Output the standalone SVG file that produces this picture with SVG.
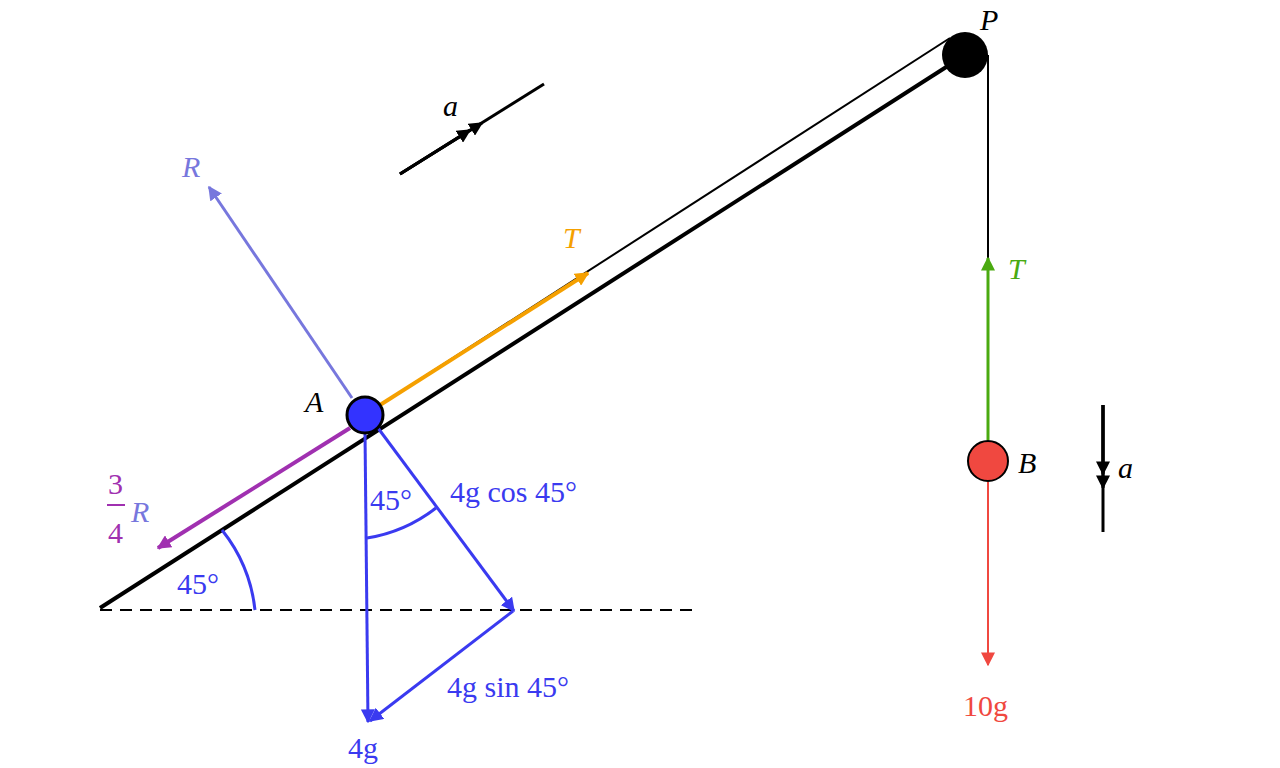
<svg xmlns="http://www.w3.org/2000/svg" width="1280" height="768" viewBox="0 0 1280 768">
<style>
text{font-family:"Liberation Serif",serif;font-size:30px}
.i{font-style:italic}
.bl{fill:#3a3af0}
</style>
<defs>
<marker id="k" viewBox="0 0 10 10" refX="9" refY="5" markerWidth="14" markerHeight="14" orient="auto" markerUnits="userSpaceOnUse"><path d="M0,0L10,5L0,10z" fill="context-stroke"/></marker>
</defs>
<rect width="1280" height="768" fill="#fff"/>
<g id="connectors" fill="none">
<line x1="100" y1="610" x2="700" y2="610" stroke="#000" stroke-width="2" stroke-dasharray="12,8"/>
<line x1="100" y1="608" x2="965" y2="55" stroke="#000" stroke-width="4"/>
<line x1="380" y1="405" x2="950" y2="38" stroke="#000" stroke-width="2"/>
<line x1="988" y1="55" x2="988" y2="260" stroke="#000" stroke-width="2"/>
<path d="M255,610 A155,155 0 0 0 222,530" stroke="#3a3af0" stroke-width="3"/>
<line x1="380" y1="405" x2="588" y2="273" stroke="#f5a000" stroke-width="4" marker-end="url(#k)"/>
<line x1="988" y1="440" x2="988" y2="258" stroke="#4aaa10" stroke-width="3" marker-end="url(#k)"/>
<line x1="988" y1="482" x2="988" y2="665" stroke="#f04840" stroke-width="2" marker-end="url(#k)"/>
<line x1="352" y1="398" x2="209" y2="187" stroke="#7777dd" stroke-width="3" marker-end="url(#k)"/>
<line x1="350" y1="428" x2="158" y2="548" stroke="#a030b0" stroke-width="4" marker-end="url(#k)"/>
<line x1="365" y1="432" x2="368" y2="722" stroke="#3a3af0" stroke-width="3" marker-end="url(#k)"/>
<line x1="378" y1="428" x2="514" y2="611" stroke="#3a3af0" stroke-width="3" marker-end="url(#k)"/>
<line x1="513" y1="611" x2="370" y2="721" stroke="#3a3af0" stroke-width="3" marker-end="url(#k)"/>
<path d="M367,538 Q405,532 436,508" stroke="#3a3af0" stroke-width="3"/>
<line x1="400" y1="174" x2="544" y2="84" stroke="#000" stroke-width="3"/>
<line x1="400" y1="174" x2="482" y2="123" stroke="#000" stroke-width="3" marker-end="url(#k)"/>
<line x1="400" y1="174" x2="470" y2="130" stroke="#000" stroke-width="3" marker-end="url(#k)"/>
<line x1="1103" y1="405" x2="1103" y2="532" stroke="#000" stroke-width="3"/>
<line x1="1103" y1="405" x2="1103" y2="474" stroke="#000" stroke-width="3" marker-end="url(#k)"/>
<line x1="1103" y1="405" x2="1103" y2="488" stroke="#000" stroke-width="3" marker-end="url(#k)"/>
</g>
<g id="P"><circle cx="965" cy="55" r="23" fill="#000"/><text x="980" y="30" class="i">P</text></g>
<g id="A"><circle cx="365" cy="415" r="18" fill="#3333ff" stroke="#000" stroke-width="3"/><text x="305" y="412" class="i">A</text></g>
<g id="B"><circle cx="988" cy="461" r="20" fill="#f04840" stroke="#000" stroke-width="2"/><text x="1018" y="473" class="i">B</text></g>
<g id="labels">
<text x="563" y="248" class="i" fill="#f5a000">T</text>
<text x="1008" y="279" class="i" fill="#4aaa10">T</text>
<text x="963" y="716" fill="#f04840">10g</text>
<text x="182" y="177" class="i" fill="#7777dd">R</text>
<text x="108" y="494" fill="#a030b0">3</text>
<line x1="107" y1="505" x2="125" y2="505" stroke="#a030b0" stroke-width="2"/>
<text x="108" y="543" fill="#a030b0">4</text>
<text x="131" y="522" class="i" fill="#7777dd">R</text>
<text x="443" y="116" class="i">a</text>
<text x="1118" y="478" class="i">a</text>
<text x="177" y="594" class="bl">45°</text>
<text x="370" y="510" class="bl">45°</text>
<text x="450" y="502" class="bl">4g cos 45°</text>
<text x="447" y="697" class="bl">4g sin 45°</text>
<text x="348" y="758" class="bl">4g</text>
</g>
</svg>
